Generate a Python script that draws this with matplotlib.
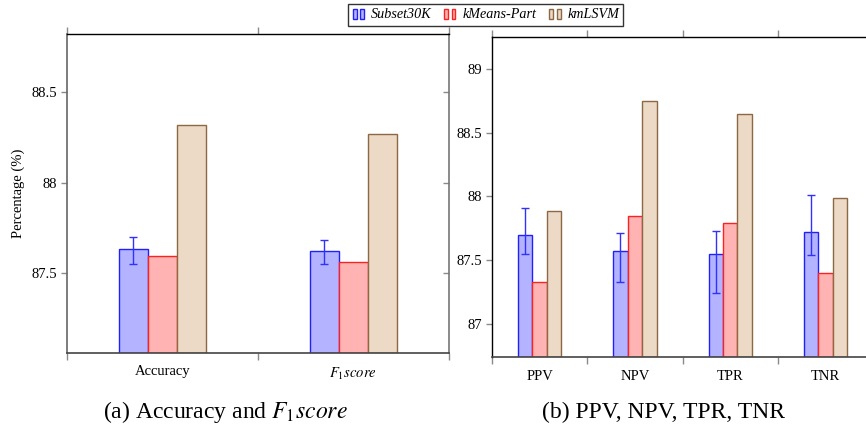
import matplotlib
matplotlib.use("Agg")
import matplotlib.pyplot as plt
from matplotlib.patches import Rectangle
from matplotlib.legend_handler import HandlerBase
import numpy as np

plt.rcParams['font.family'] = ['Liberation Serif', 'DejaVu Serif']
plt.rcParams['mathtext.fontset'] = 'stix'

series = ['Subset30K', 'kMeans-Part', 'kmLSVM']
fills = ['#b3b3ff', '#ffb3b3', '#ecd9c6']
edges = ['#2020ff', '#ff2020', '#8c6844']

# Panel (a)
cats_a = ['Accuracy', r'$F_1 score$']
subset_a = [87.63, 87.62]
subset_a_err_lo = [0.08, 0.07]
subset_a_err_hi = [0.07, 0.06]
kmeans_a = [87.59, 87.56]
kmlsvm_a = [88.32, 88.27]
yticks_a = [87.5, 88.0, 88.5]
yticklabels_a = ['87.5', '88', '88.5']

# Panel (b)
cats_b = ['PPV', 'NPV', 'TPR', 'TNR']
subset_b = [87.70, 87.57, 87.55, 87.72]
subset_b_err_lo = [0.15, 0.24, 0.31, 0.18]
subset_b_err_hi = [0.21, 0.14, 0.18, 0.29]
kmeans_b = [87.33, 87.85, 87.79, 87.40]
kmlsvm_b = [87.89, 88.75, 88.65, 87.99]
yticks_b = [87.0, 87.5, 88.0, 88.5, 89.0]
yticklabels_b = ['87', '87.5', '88', '88.5', '89']

W, H = 866, 429
fig = plt.figure(figsize=(W / 100, H / 100), dpi=100)

ax_a = fig.add_axes([67 / W, (H - 353) / H, 381.5 / W, 319 / H])
ax_b = fig.add_axes([492 / W, (H - 357) / H, 381.2 / W, 320 / H])

bw = 0.152
TICKC = '#8a8a8a'
FS = 10.5


def draw(ax, cats, s, elo, ehi, k, m, ylim, yt, ytl):
    n = len(cats)
    x = np.arange(n) + 0.5
    vals = [s, k, m]
    for i, v in enumerate(vals):
        ax.bar(x + (i - 1) * bw, np.array(v) - ylim[0], bottom=ylim[0], width=bw,
               color=fills[i], edgecolor=edges[i], linewidth=1.0, zorder=2)
    ax.errorbar(x - bw, s, yerr=[elo, ehi], fmt='none', ecolor='#3030ff',
                elinewidth=1.0, capsize=3.2, capthick=1.0, zorder=3)
    ax.set_xlim(0, n)
    ax.set_ylim(*ylim)
    ax.set_xticks(np.arange(n + 1))
    ax.set_xticklabels([])
    ax.set_xticks(x, minor=True)
    ax.set_xticklabels(cats, minor=True, fontsize=FS)
    ax.tick_params(axis='x', which='minor', length=0, pad=9)
    ax.tick_params(axis='x', which='major', direction='out', length=5,
                   color=TICKC, width=1.0, top=True, bottom=True)
    ax.set_yticks(yt)
    ax.set_yticklabels(ytl, fontsize=FS)
    ax.tick_params(axis='y', direction='out', length=4, color=TICKC,
                   width=1.0, pad=3)
    for sp in ['top', 'left']:
        ax.spines[sp].set_color('black')
        ax.spines[sp].set_linewidth(1.0)
    ax.spines['bottom'].set_color('#444444')
    ax.spines['bottom'].set_linewidth(1.2)
    ax.spines['right'].set_color('#777777')
    ax.spines['right'].set_linewidth(1.2)


draw(ax_a, cats_a, subset_a, subset_a_err_lo, subset_a_err_hi, kmeans_a, kmlsvm_a,
     (87.054, 88.824), yticks_a, yticklabels_a)
ax_a.spines['left'].set_color('#666666')
ax_a.spines['left'].set_linewidth(1.2)
sec = ax_a.secondary_yaxis('right')
sec.set_yticks(yticks_a)
sec.set_yticklabels([])
sec.tick_params(direction='in', length=4, color=TICKC, width=1.0)
sec.spines['right'].set_visible(False)

draw(ax_b, cats_b, subset_b, subset_b_err_lo, subset_b_err_hi, kmeans_b, kmlsvm_b,
     (86.741, 89.251), yticks_b, yticklabels_b)

ax_a.set_ylabel('Percentage (%)', fontsize=FS, labelpad=5)

fig.text(225 / W, 1 - 412 / H, r'(a) Accuracy and $F_1 score$', ha='center',
         va='center', fontsize=17)
fig.text(664 / W, 1 - 412 / H, '(b) PPV, NPV, TPR, TNR', ha='center',
         va='center', fontsize=17)


class TwoBars(HandlerBase):
    def __init__(self, fc, ec):
        super().__init__()
        self.fc = fc
        self.ec = ec

    def create_artists(self, legend, orig_handle, xd, yd, width, height, fontsize, trans):
        arts = []
        bwid = width * 0.28
        for off in (0.05, 0.55):
            r = Rectangle((xd + width * off, yd - height * 0.1), bwid, height * 1.1,
                          facecolor=self.fc, edgecolor=self.ec, linewidth=1.0,
                          transform=trans)
            arts.append(r)
        return arts


handles = [Rectangle((0, 0), 1, 1) for _ in series]
hmap = {h: TwoBars(fills[i], edges[i]) for i, h in enumerate(handles)}
leg = fig.legend(handles, series, handler_map=hmap, loc='center',
                 bbox_to_anchor=(485.5 / W, 1 - 15 / H), ncol=3, frameon=True,
                 fancybox=False, edgecolor='black', handlelength=1.0,
                 handletextpad=0.3, columnspacing=0.9, borderpad=0.3,
                 prop={'family': 'Liberation Serif', 'style': 'italic', 'size': 10.2})
leg.get_frame().set_linewidth(1.0)

fig.savefig('out.png', dpi=100)
